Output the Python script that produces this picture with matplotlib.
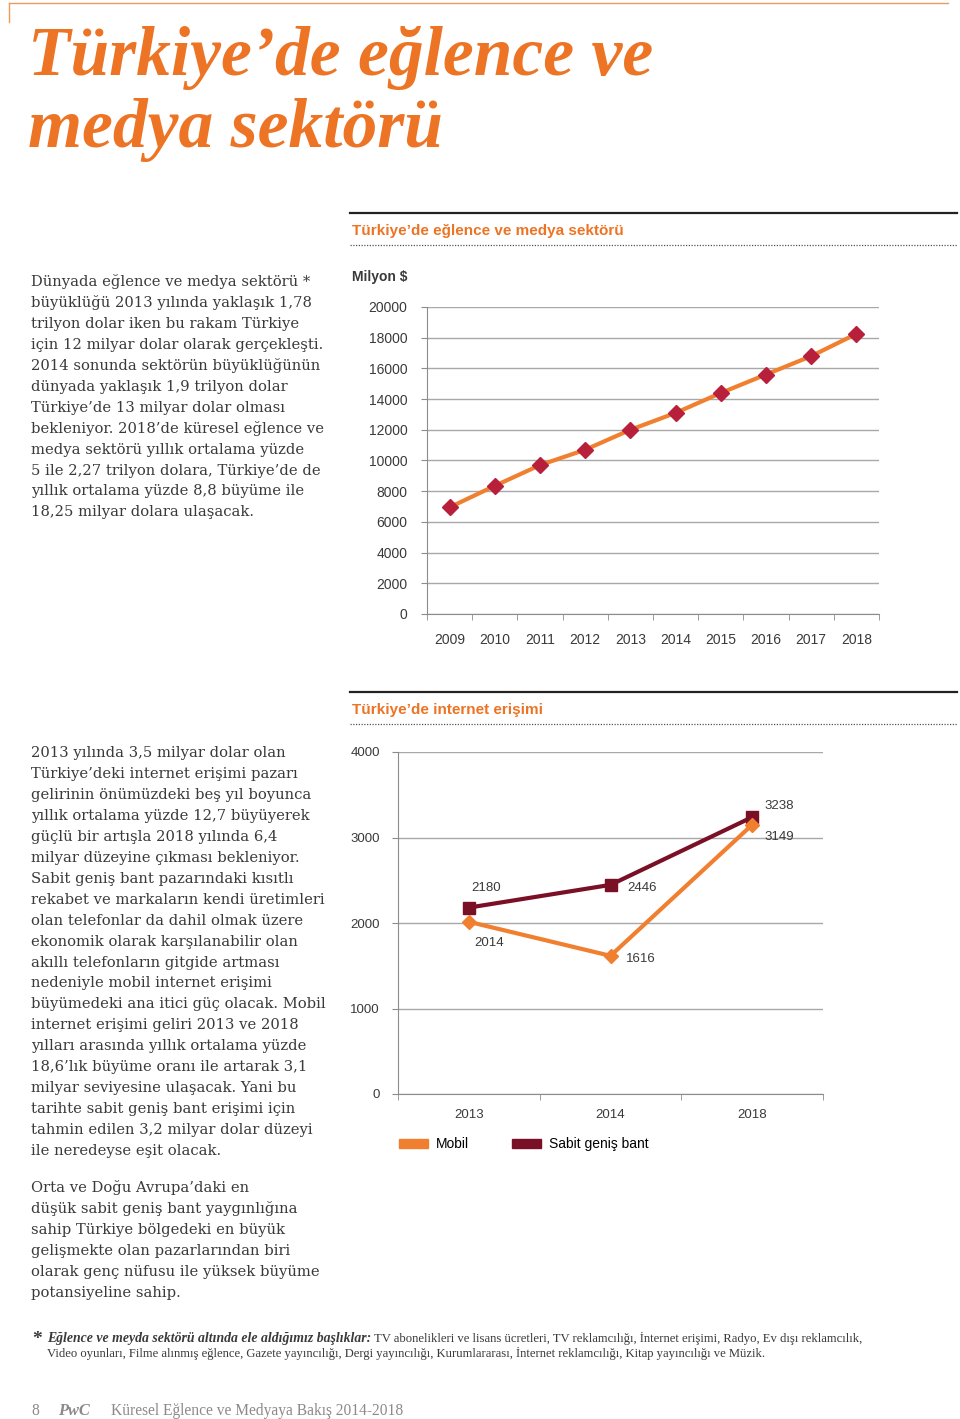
import numpy as np
import matplotlib
matplotlib.use("Agg")
from matplotlib import pyplot as plt
from matplotlib.patches import Patch

plt.rcParams['font.family'] = ['Liberation Sans', 'DejaVu Sans']

# --- data ---
sector_years = ["2009", "2010", "2011", "2012", "2013", "2014", "2015", "2016", "2017", "2018"]
sector_values = [6950, 8350, 9700, 10700, 12000, 13100, 14400, 15600, 16800, 18250]

net_years = ["2013", "2014", "2018"]
mobil_values = [2014, 1616, 3149]
sabit_values = [2180, 2446, 3238]
net_labels = ["Mobil", "Sabit geniş bant"]

title_lines = ["Türkiye’de eğlence ve", "medya sektörü"]
chart1_title = "Türkiye’de eğlence ve medya sektörü"
chart2_title = "Türkiye’de internet erişimi"

para1 = [
    "Dünyada eğlence ve medya sektörü *",
    "büyüklüğü 2013 yılında yaklaşık 1,78",
    "trilyon dolar iken bu rakam Türkiye",
    "için 12 milyar dolar olarak gerçekleşti.",
    "2014 sonunda sektörün büyüklüğünün",
    "dünyada yaklaşık 1,9 trilyon dolar",
    "Türkiye’de 13 milyar dolar olması",
    "bekleniyor. 2018’de küresel eğlence ve",
    "medya sektörü yıllık ortalama yüzde",
    "5 ile 2,27 trilyon dolara, Türkiye’de de",
    "yıllık ortalama yüzde 8,8 büyüme ile",
    "18,25 milyar dolara ulaşacak.",
]
para2 = [
    "2013 yılında 3,5 milyar dolar olan",
    "Türkiye’deki internet erişimi pazarı",
    "gelirinin önümüzdeki beş yıl boyunca",
    "yıllık ortalama yüzde 12,7 büyüyerek",
    "güçlü bir artışla 2018 yılında 6,4",
    "milyar düzeyine çıkması bekleniyor.",
    "Sabit geniş bant pazarındaki kısıtlı",
    "rekabet ve markaların kendi üretimleri",
    "olan telefonlar da dahil olmak üzere",
    "ekonomik olarak karşılanabilir olan",
    "akıllı telefonların gitgide artması",
    "nedeniyle mobil internet erişimi",
    "büyümedeki ana itici güç olacak. Mobil",
    "internet erişimi geliri 2013 ve 2018",
    "yılları arasında yıllık ortalama yüzde",
    "18,6’lık büyüme oranı ile artarak 3,1",
    "milyar seviyesine ulaşacak. Yani bu",
    "tarihte sabit geniş bant erişimi için",
    "tahmin edilen 3,2 milyar dolar düzeyi",
    "ile neredeyse eşit olacak.",
]
para3 = [
    "Orta ve Doğu Avrupa’daki en",
    "düşük sabit geniş bant yaygınlığına",
    "sahip Türkiye bölgedeki en büyük",
    "gelişmekte olan pazarlarından biri",
    "olarak genç nüfusu ile yüksek büyüme",
    "potansiyeline sahip.",
]
note_bold = "Eğlence ve meyda sektörü altında ele aldığımız başlıklar:"
note_rest1 = ("TV abonelikleri ve lisans ücretleri, TV reklamcılığı, İnternet erişimi, "
              "Radyo, Ev dışı reklamcılık,")
note_line2 = ("Video oyunları, Filme alınmış eğlence, Gazete yayıncılığı, Dergi yayıncılığı, "
              "Kurumlararası, İnternet reklamcılığı, Kitap yayıncılığı ve Müzik.")
footer_text = "Küresel Eğlence ve Medyaya Bakış 2014-2018"

# --- colours ---
ORANGE = "#EC7424"
LINE_ORANGE = "#F08030"
CRIMSON = "#B81F3A"
MAROON = "#7A1025"
TEXT = "#3A3A3A"
GRID = "#A8A8A8"
AXIS = "#8C8C8C"

W, H = 960, 1419


def box(left, top, right, bottom):
    return [left / W, 1 - bottom / H, (right - left) / W, (bottom - top) / H]


fig = plt.figure(figsize=(W / 100, H / 100), dpi=100)

# page overlay in pixel coordinates
page = fig.add_axes([0, 0, 1, 1])
page.set_xlim(0, W)
page.set_ylim(H, 0)
page.axis("off")

page.plot([9, 948], [3, 3], color="#EE9A5A", lw=1)
page.plot([9, 9], [3, 22], color="#EE9A5A", lw=1)

serif_bi = dict(family="Liberation Serif", weight="bold", style="italic")
page.text(28, 75, title_lines[0], color=ORANGE, fontsize=50, va="baseline", **serif_bi)
page.text(28, 147, title_lines[1], color=ORANGE, fontsize=50, va="baseline", **serif_bi)

# section headers
for top, label in [(213, chart1_title), (692, chart2_title)]:
    page.plot([350, 957], [top, top], color="#222222", lw=1.6)
    page.text(352, top + 22, label, color=ORANGE, fontsize=11, weight="bold", va="baseline")
    page.plot([350, 957], [top + 32, top + 32], color="#555555", lw=0.9, linestyle=(0, (1, 1.2)))

# body text
body_font = dict(family="DejaVu Serif", fontsize=10.6, color=TEXT, va="baseline")
for lines, start in [(para1, 286), (para2, 757), (para3, 1192)]:
    for i, line in enumerate(lines):
        page.text(31, start + 20.95 * i, line, **body_font)

# footnote
page.text(32, 1344, "*", family="Liberation Serif", weight="bold", fontsize=14, color=TEXT, va="baseline")
t = page.text(47, 1342, note_bold, family="Liberation Serif", weight="bold", style="italic",
              fontsize=9.9, color=TEXT, va="baseline")
renderer = fig.canvas.get_renderer()
x_end = t.get_window_extent(renderer).x1
page.text(x_end + 3, 1342, note_rest1, family="Liberation Serif", fontsize=9.1, color=TEXT, va="baseline")
page.text(47, 1357, note_line2, family="Liberation Serif", fontsize=9.1, color=TEXT, va="baseline")

# footer
page.text(31, 1415, "8", family="Liberation Serif", fontsize=11.2, color="#8A8A8A", va="baseline")
page.text(58, 1415, "PwC", family="Liberation Serif", weight="bold", style="italic", fontsize=11.8,
          color="#8A8A8A", va="baseline")
page.text(111, 1415, footer_text, family="Liberation Serif", fontsize=11.2, color="#8A8A8A", va="baseline")

page.text(352, 281, "Milyon $", fontsize=10, weight="bold", color=TEXT, va="baseline")


def style_axis(ax, n):
    ax.set_xlim(-0.5, n - 0.5)
    for side in ["top", "right"]:
        ax.spines[side].set_visible(False)
    for side in ["left", "bottom"]:
        ax.spines[side].set_color(AXIS)
    ax.yaxis.grid(True, color=GRID, lw=1)
    ax.set_axisbelow(True)
    ax.set_xticks(np.arange(n))
    ax.set_xticks(np.arange(n + 1) - 0.5, minor=True)
    ax.tick_params(axis="x", which="major", length=0, labelsize=10, labelcolor=TEXT)
    ax.tick_params(axis="x", which="minor", length=4, color=AXIS, direction="out")
    ax.tick_params(axis="y", length=4, color=AXIS, labelsize=10, labelcolor=TEXT)


# chart 1
ax1 = fig.add_axes(box(427, 307, 879, 614))
x1 = np.arange(len(sector_years))
ax1.plot(x1, sector_values, color=LINE_ORANGE, lw=3, marker="D", ms=8,
         mfc=CRIMSON, mec=CRIMSON, zorder=3)
style_axis(ax1, len(sector_years))
ax1.set_ylim(0, 20000)
ax1.set_yticks(range(0, 20001, 2000))
ax1.set_xticklabels(sector_years)
ax1.tick_params(axis="x", which="major", pad=14)
ax1.tick_params(axis="y", pad=10)

# chart 2
ax2 = fig.add_axes(box(398, 752, 823, 1094))
x2 = np.arange(len(net_years))
ax2.plot(x2, sabit_values, color=MAROON, lw=3, marker="s", ms=9, mfc=MAROON, mec=MAROON, zorder=3)
ax2.plot(x2, mobil_values, color=LINE_ORANGE, lw=3, marker="D", ms=7.5,
         mfc=LINE_ORANGE, mec=LINE_ORANGE, zorder=4)
style_axis(ax2, len(net_years))
ax2.set_ylim(0, 4000)
ax2.set_yticks(range(0, 4001, 1000))
ax2.set_xticklabels(net_years)
ax2.tick_params(axis="x", which="major", pad=11, labelsize=9.5)
ax2.tick_params(axis="y", pad=9, labelsize=9.5)

sabit_offsets = [(2, 14), (12, -2), (9, 8)]
mobil_offsets = [(4, -15), (11, -2), (9, -9)]
for i, v in enumerate(sabit_values):
    ax2.annotate(str(v), (x2[i], v), xytext=sabit_offsets[i], textcoords="offset points",
                 fontsize=9.5, color=TEXT, va="center", ha="left")
for i, v in enumerate(mobil_values):
    ax2.annotate(str(v), (x2[i], v), xytext=mobil_offsets[i], textcoords="offset points",
                 fontsize=9.5, color=TEXT, va="center", ha="left")

handles = [Patch(color=LINE_ORANGE, label=net_labels[0]), Patch(color=MAROON, label=net_labels[1])]
ax2.legend(handles=handles, loc="center left", bbox_to_anchor=(399 / W, 1 - 1144 / H),
           bbox_transform=fig.transFigure, ncol=2, frameon=False, fontsize=10,
           borderpad=0, borderaxespad=0, handlelength=2.1, handleheight=0.6,
           handletextpad=0.55, columnspacing=3.1)

fig.savefig("out.png", dpi=100)
